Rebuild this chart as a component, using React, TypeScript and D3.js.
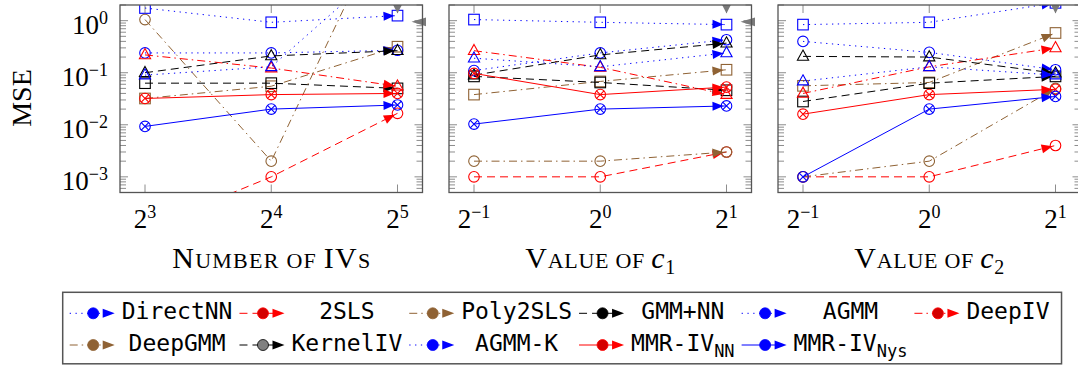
import React, { useEffect, useRef } from "react";
import * as d3 from "d3";

// methods, in legend order
const methods = ["DirectNN", "2SLS", "Poly2SLS", "GMM+NN", "AGMM", "DeepIV", "DeepGMM", "KernelIV", "AGMM-K", "MMR-IV_NN", "MMR-IV_Nys"];
const colors = ["#0000ff", "#ff0000", "#8f6234", "#000000", "#0000ff", "#ff0000", "#8f6234", "#000000", "#0000ff", "#ff0000", "#0000ff"];
const legendDots = ["#0000ff", "#d40000", "#8f6234", "#000000", "#0000ff", "#d40000", "#8f6234", "#808080", "#0000ff", "#d40000", "#0000ff"];
const lineStyles = ["dotted", "dashed", "dashdot", "dashed", "dotted", "dashdot", "dashdot", "dashed", "dotted", "solid", "solid"];
const markers = ["square", "circle", "square", "square", "circle", "triangle", "circle", "triangle", "triangle", "otimes", "otimes"];

// x values of the three panels
const numIVs = [8, 16, 32];
const c1Values = [0.5, 1, 2];
const c2Values = [0.5, 1, 2];

// MSE, one row per method (same order as methods)
const mseIVs = [
  [1.75, 0.93, 1.25],
  [1e-4, 1e-3, 0.0166],
  [0.032, 0.055, 0.316],
  [0.063, 0.063, 0.05],
  [0.24, 0.24, 0.27],
  [0.22, 0.123, 0.055],
  [1.05, 0.002, 250],
  [0.1, 0.21, 0.265],
  [0.09, 0.13, 18],
  [0.032, 0.038, 0.04],
  [0.0093, 0.02, 0.024],
];
const mseC1 = [
  [1.05, 0.93, 0.84],
  [0.001, 0.001, 0.003],
  [0.038, 0.068, 0.114],
  [0.085, 0.065, 0.046],
  [0.11, 0.24, 0.43],
  [0.265, 0.127, 0.038],
  [0.002, 0.002, 0.003],
  [0.09, 0.22, 0.37],
  [0.19, 0.13, 0.24],
  [0.097, 0.038, 0.053],
  [0.0103, 0.02, 0.023],
];
const mseC2 = [
  [0.84, 0.93, 2.2],
  [0.001, 0.001, 0.004],
  [0.056, 0.065, 0.58],
  [0.028, 0.063, 0.085],
  [0.4, 0.246, 0.114],
  [0.04, 0.13, 0.3],
  [0.001, 0.002, 0.05],
  [0.206, 0.2, 0.098],
  [0.069, 0.13, 0.09],
  [0.016, 0.038, 0.048],
  [0.001, 0.02, 0.035],
];

const yMajor = [1e-3, 1e-2, 1e-1, 1];
const yExp = ["\u22123", "\u22122", "\u22121", "0"];
const xTickExp = [["3", "4", "5"], ["\u22121", "0", "1"], ["\u22121", "0", "1"]];
const xTitles: [string, number, string?][][] = [
  [["N", 30], ["UMBER OF ", 22], ["IV", 30], ["S", 22]],
  [["V", 30], ["ALUE OF ", 22], ["c", 30, "italic"], ["1", 20, "sub"]],
  [["V", 30], ["ALUE OF ", 22], ["c", 30, "italic"], ["2", 20, "sub"]],
];
const titleWidths = [198, 150, 150];

const dashMap: Record<string, string | null> = {
  dotted: "1.3 4.5",
  dashed: "8 5",
  dashdot: "8 4 1.5 4",
  solid: null,
};

export default function App() {
  const ref = useRef<SVGSVGElement>(null);

  useEffect(() => {
    const svg = d3.select(ref.current);
    svg.selectAll("*").remove();

    const serif = "'Liberation Serif', 'Times New Roman', serif";
    const mono = "'DejaVu Sans Mono', monospace";
    const top = 5, bottom = 192.5;
    const panelLefts = [120, 449, 778];
    const panelW = 302.5;
    const pad = 25;
    const axisColor = "#555";
    const tickColor = "#808080";

    const y = d3.scaleLog().domain([5e-4, 2]).range([bottom, top]);
    const allTicks = y.ticks().filter((t) => t >= 5e-4 && t <= 2);

    const drawMarker = (g: any, kind: string, cx: number, cy: number, color: string) => {
      const s = 5.3;
      if (kind === "square") {
        g.append("rect").attr("x", cx - s).attr("y", cy - s).attr("width", 2 * s).attr("height", 2 * s)
          .attr("fill", "none").attr("stroke", color).attr("stroke-width", 1.1);
      } else if (kind === "circle" || kind === "otimes") {
        g.append("circle").attr("cx", cx).attr("cy", cy).attr("r", s)
          .attr("fill", "none").attr("stroke", color).attr("stroke-width", 1.1);
        if (kind === "otimes") {
          const d = s * 0.707;
          g.append("path").attr("d", `M${cx - d},${cy - d}L${cx + d},${cy + d}M${cx - d},${cy + d}L${cx + d},${cy - d}`)
            .attr("stroke", color).attr("stroke-width", 1.1);
        }
      } else if (kind === "triangle") {
        g.append("path").attr("d", `M${cx},${cy - 6.3}L${cx + 5.6},${cy + 3.8}L${cx - 5.6},${cy + 3.8}Z`)
          .attr("fill", "none").attr("stroke", color).attr("stroke-width", 1.1);
      }
    };

    const panelXs = [numIVs, c1Values, c2Values];
    const panelMse = [mseIVs, mseC1, mseC2];

    panelXs.forEach((xs, pi) => {
      const x0 = panelLefts[pi], x1 = x0 + panelW;
      const x = d3.scaleLog().base(2).domain([xs[0], xs[xs.length - 1]]).range([x0 + pad, x1 - pad]);
      const g = svg.append("g");

      svg.append("clipPath").attr("id", `clip${pi}`)
        .append("rect").attr("x", x0).attr("y", top).attr("width", panelW).attr("height", bottom - top);

      // ticks (inward, both sides)
      allTicks.forEach((t) => {
        const major = yMajor.some((m) => Math.abs(m - t) / m < 1e-9);
        const len = major ? 8 : 6;
        const yy = y(t);
        g.append("line").attr("x1", x0).attr("x2", x0 + len).attr("y1", yy).attr("y2", yy)
          .attr("stroke", tickColor).attr("stroke-width", 0.9);
        g.append("line").attr("x1", x1).attr("x2", x1 - len).attr("y1", yy).attr("y2", yy)
          .attr("stroke", tickColor).attr("stroke-width", 0.9);
      });
      xs.forEach((v, i) => {
        const xx = x(v);
        g.append("line").attr("x1", xx).attr("x2", xx).attr("y1", top).attr("y2", top + 8)
          .attr("stroke", tickColor).attr("stroke-width", 0.9);
        g.append("line").attr("x1", xx).attr("x2", xx).attr("y1", bottom).attr("y2", bottom - 8)
          .attr("stroke", tickColor).attr("stroke-width", 0.9);
        const tl = g.append("text").attr("x", xx).attr("y", 228).attr("text-anchor", "middle")
          .attr("font-family", serif).attr("font-size", 27);
        tl.append("tspan").text("2");
        tl.append("tspan").attr("dy", -10).attr("font-size", 18).text(xTickExp[pi][i]);
      });

      // series
      const plot = g.append("g").attr("clip-path", `url(#clip${pi})`);
      const rows = panelMse[pi];
      rows.forEach((vals, si) => {
        const color = colors[si];
        const pts = vals.map((v, i) => [x(xs[i]), y(v)] as [number, number]);
        const line = d3.line();
        const path = plot.append("path").attr("d", line(pts)).attr("fill", "none")
          .attr("stroke", color).attr("stroke-width", 1);
        const dash = dashMap[lineStyles[si]];
        if (dash) path.attr("stroke-dasharray", dash);
        // arrow head at the end
        const [ax, ay] = pts[pts.length - 2];
        const [bx, by] = pts[pts.length - 1];
        const L = Math.hypot(bx - ax, by - ay);
        const ux = (bx - ax) / L, uy = (by - ay) / L;
        const tx = bx - 3 * ux, ty = by - 3 * uy;
        const baseX = tx - 11 * ux, baseY = ty - 11 * uy;
        const nx = -uy, ny = ux;
        plot.append("path")
          .attr("d", `M${tx},${ty}L${baseX + 4.5 * nx},${baseY + 4.5 * ny}L${baseX - 4.5 * nx},${baseY - 4.5 * ny}Z`)
          .attr("fill", color);
        pts.forEach(([px, py]) => drawMarker(plot, markers[si], px, py, color));
      });

      // gray edge marks
      const lx = x(xs[xs.length - 1]);
      g.append("path").attr("d", `M${lx - 4.3},${top}L${lx + 4.3},${top}L${lx},${top + 8.5}Z`).attr("fill", "#7a7a7a");
      if (pi < 2) {
        const ly = y(0.95);
        g.append("path").attr("d", `M${x1 - 11},${ly}L${x1 + 3.5},${ly - 4.3}L${x1 + 3.5},${ly + 4.3}Z`).attr("fill", "#7a7a7a");
      }

      // frame
      g.append("rect").attr("x", x0).attr("y", top).attr("width", panelW).attr("height", bottom - top)
        .attr("fill", "none").attr("stroke", axisColor).attr("stroke-width", 1.3);

      // title
      const tt = g.append("text").attr("x", (x0 + x1) / 2).attr("y", 268).attr("text-anchor", "middle")
        .attr("font-family", serif).attr("textLength", titleWidths[pi]).attr("lengthAdjust", "spacing");
      xTitles[pi].forEach(([txt, size, style]) => {
        const ts = tt.append("tspan").attr("font-size", size).text(txt);
        if (style === "italic") ts.attr("font-style", "italic");
        if (style === "sub") ts.attr("dy", 6);
      });

      if (pi === 0) {
        yMajor.forEach((v, i) => {
          const tl = g.append("text").attr("x", 108).attr("y", y(v) + 13).attr("text-anchor", "end")
            .attr("font-family", serif).attr("font-size", 27);
          tl.append("tspan").text("10");
          tl.append("tspan").attr("dy", -10).attr("font-size", 18).text(yExp[i]);
        });
        g.append("text").attr("transform", `translate(31,98) rotate(-90)`).attr("text-anchor", "middle")
          .attr("font-family", serif).attr("font-size", 28).text("MSE");
      }
    });

    // legend
    const lg = svg.append("g");
    const nCols = 6;
    const baselines = [319.3, 351];
    const texts: any[] = [];
    methods.forEach((m, i) => {
      const [main, sub] = m.split("_");
      const t = lg.append("text").attr("font-family", mono).attr("font-size", 23).attr("text-anchor", "middle")
        .attr("y", baselines[Math.floor(i / nCols)]);
      t.append("tspan").text(main);
      if (sub) t.append("tspan").attr("font-size", 17).attr("dy", 6).text(sub);
      texts.push(t);
    });
    const widths = texts.map((t) => (t.node() as SVGTextElement).getComputedTextLength());
    const boxLeft = 62.7;
    let cursor = boxLeft + 7;
    for (let c = 0; c < nCols; c++) {
      const w = Math.max(...methods.map((_, i) => (i % nCols === c ? widths[i] : 0)));
      methods.forEach((_, i) => {
        if (i % nCols !== c) return;
        const row = Math.floor(i / nCols);
        const cy = baselines[row] - 6;
        const ix = cursor;
        const ln = lg.append("line").attr("x1", ix).attr("x2", ix + 38).attr("y1", cy).attr("y2", cy)
          .attr("stroke", colors[i]).attr("stroke-width", 1);
        const dash = dashMap[lineStyles[i]];
        if (dash) ln.attr("stroke-dasharray", dash);
        lg.append("circle").attr("cx", ix + 23.5).attr("cy", cy).attr("r", 5.5)
          .attr("fill", legendDots[i]).attr("stroke", colors[i]).attr("stroke-width", 0.8);
        lg.append("path").attr("d", `M${ix + 33},${cy - 4.5}L${ix + 45},${cy}L${ix + 33},${cy + 4.5}Z`)
          .attr("fill", colors[i]);
        texts[i].attr("x", ix + 52 + w / 2);
      });
      cursor += 52 + w + 7;
    }
    lg.insert("rect", ":first-child").attr("x", boxLeft).attr("y", 292.3).attr("width", cursor + 5 - boxLeft).attr("height", 71.5)
      .attr("fill", "#fff").attr("stroke", axisColor).attr("stroke-width", 1.5);
  }, []);

  return (
    <svg ref={ref} width={1078} height={367}
      style={{ position: "absolute", left: 0, top: 0, background: "#fff", overflow: "hidden" }} />
  );
}
